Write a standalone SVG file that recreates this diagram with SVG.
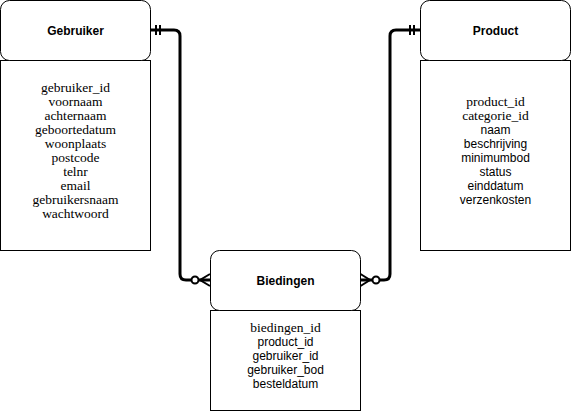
<svg xmlns="http://www.w3.org/2000/svg" width="571" height="411" viewBox="0 0 571 411">
<style>
.box{fill:#fff;stroke:#000;stroke-width:1}
.title{font-family:"Liberation Sans",Arial,sans-serif;font-size:12px;font-weight:bold;text-anchor:middle;fill:#000}
.serif{font-family:"Liberation Serif","Times New Roman",serif;font-size:13.5px;text-anchor:middle;fill:#000}
.sans{font-family:"Liberation Sans",Arial,sans-serif;font-size:12px;text-anchor:middle;fill:#000}
.edge{fill:none;stroke:#000;stroke-width:3;stroke-linejoin:round}
.mk{fill:none;stroke:#000;stroke-width:2}
.circ{fill:#fff;stroke:#000;stroke-width:2}
</style>
<rect width="571" height="411" fill="#fff"/>
<g id="connectors">
  <path class="edge" d="M150.5,30 H174 Q180,30 180,36 V274 Q180,280 186,280 H210"/>
  <line class="mk" x1="156" y1="25" x2="156" y2="35"/>
  <line class="mk" x1="160" y1="25" x2="160" y2="35"/>
  <path class="mk" d="M210,274 L200,280 L210,286"/>
  <circle class="circ" cx="195" cy="280" r="3.5"/>
  <path class="edge" d="M420.5,30 H396 Q390,30 390,36 V274 Q390,280 384,280 H360.5"/>
  <line class="mk" x1="410" y1="25" x2="410" y2="35"/>
  <line class="mk" x1="414" y1="25" x2="414" y2="35"/>
  <path class="mk" d="M360.5,274 L370,280 L360.5,286"/>
  <circle class="circ" cx="376" cy="280" r="3.5"/>
</g>
<g id="gebruiker">
  <rect class="box" x="0.5" y="60.5" width="150" height="190"/>
  <rect class="box" x="0.5" y="0.5" width="150" height="60" rx="9" ry="9"/>
  <text class="title" x="75.5" y="34.5">Gebruiker</text>
  <text class="serif" x="75.5" y="92">gebruiker_id</text>
  <text class="serif" x="75.5" y="106">voornaam</text>
  <text class="serif" x="75.5" y="120">achternaam</text>
  <text class="serif" x="75.5" y="134">geboortedatum</text>
  <text class="serif" x="75.5" y="148">woonplaats</text>
  <text class="serif" x="75.5" y="162">postcode</text>
  <text class="serif" x="75.5" y="176">telnr</text>
  <text class="serif" x="75.5" y="190">email</text>
  <text class="serif" x="75.5" y="204">gebruikersnaam</text>
  <text class="serif" x="75.5" y="218">wachtwoord</text>
</g>
<g id="product">
  <rect class="box" x="420.5" y="60.5" width="150" height="190"/>
  <rect class="box" x="420.5" y="0.5" width="150" height="60" rx="9" ry="9"/>
  <text class="title" x="495.5" y="34.5">Product</text>
  <text class="serif" x="495.5" y="106">product_id</text>
  <text class="serif" x="495.5" y="120">categorie_id</text>
  <text class="sans" x="495.5" y="134">naam</text>
  <text class="sans" x="495.5" y="148">beschrijving</text>
  <text class="sans" x="495.5" y="162">minimumbod</text>
  <text class="sans" x="495.5" y="176">status</text>
  <text class="sans" x="495.5" y="190">einddatum</text>
  <text class="sans" x="495.5" y="204">verzenkosten</text>
</g>
<g id="biedingen">
  <rect class="box" x="210.5" y="310.5" width="150" height="100"/>
  <rect class="box" x="210.5" y="250.5" width="150" height="60" rx="9" ry="9"/>
  <text class="title" x="285.5" y="284.5">Biedingen</text>
  <text class="serif" x="285.5" y="332">biedingen_id</text>
  <text class="sans" x="285.5" y="346">product_id</text>
  <text class="sans" x="285.5" y="360">gebruiker_id</text>
  <text class="sans" x="285.5" y="374">gebruiker_bod</text>
  <text class="sans" x="285.5" y="388">besteldatum</text>
</g>
</svg>
